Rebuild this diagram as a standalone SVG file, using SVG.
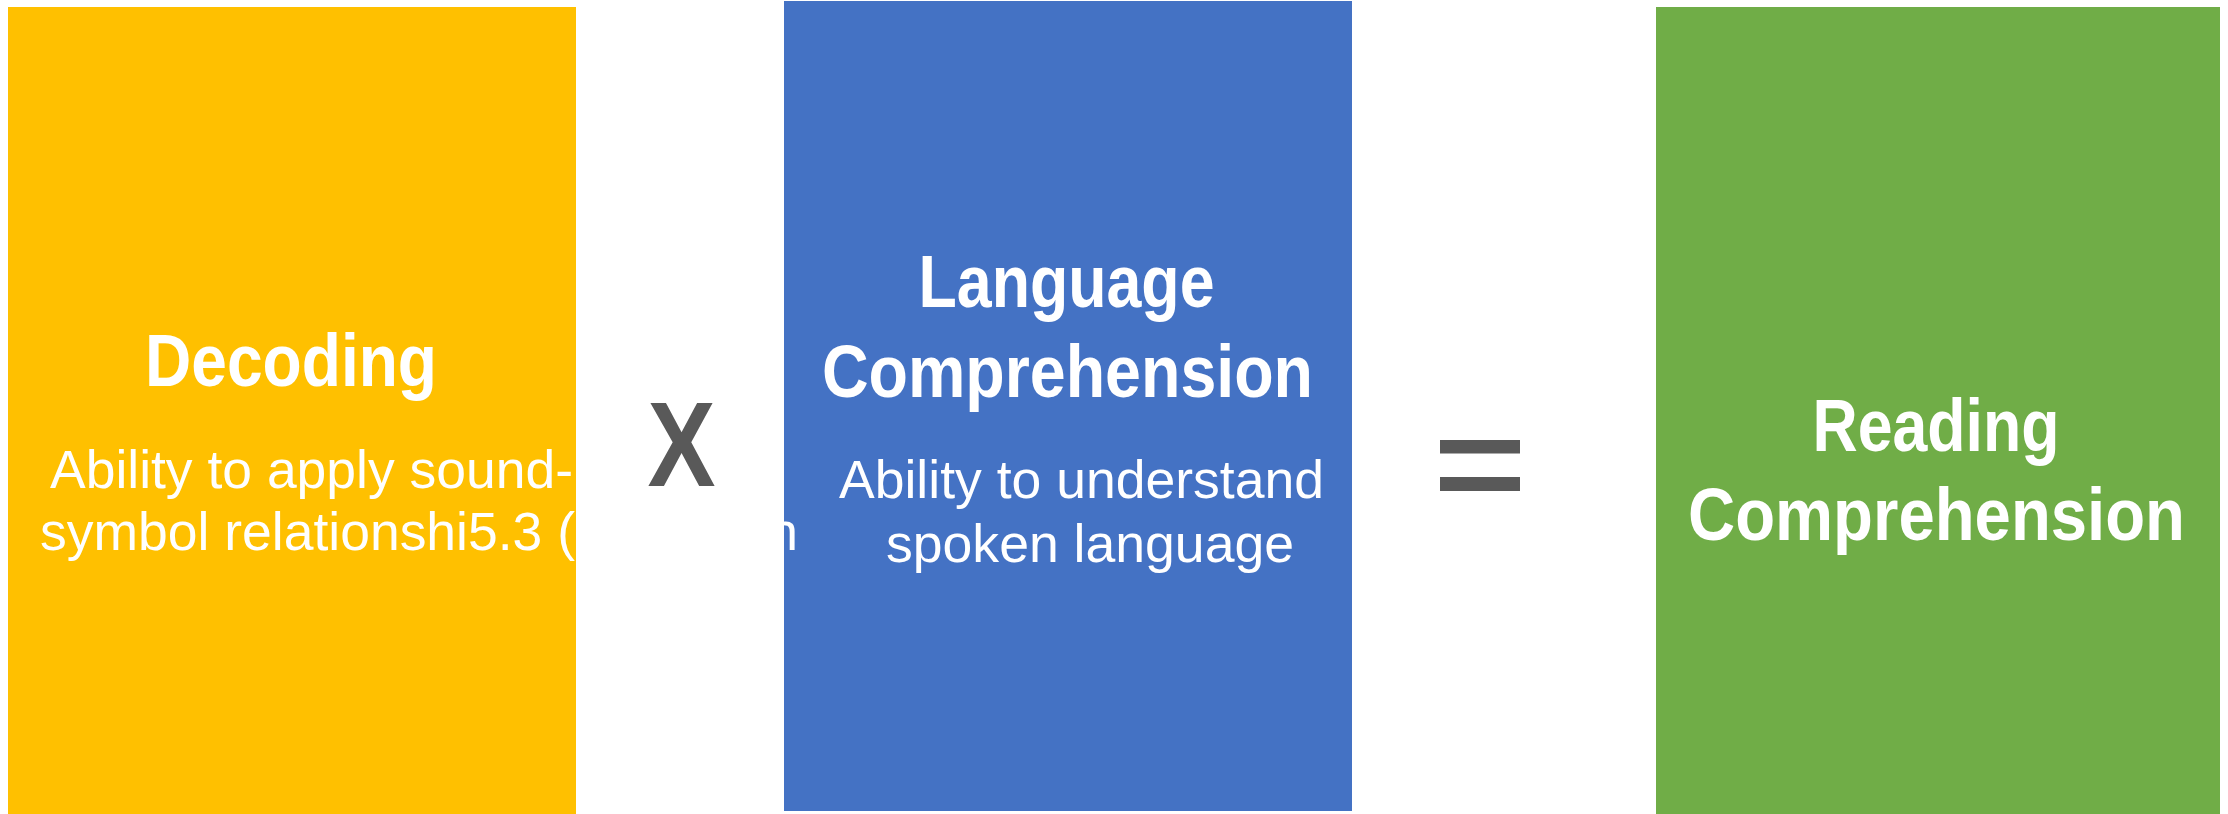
<svg xmlns="http://www.w3.org/2000/svg" width="2228" height="814" viewBox="0 0 2228 814">
  <style>
    .title { font-family: "Liberation Sans Narrow", "Liberation Sans", Arial, sans-serif; font-weight: bold; font-size: 75px; fill: #FFFFFF; }
    .body { font-family: "Liberation Sans", Arial, sans-serif; font-size: 54px; fill: #FFFFFF; }
    .op { font-family: "Liberation Sans Narrow", "Liberation Sans", Arial, sans-serif; font-weight: bold; font-size: 120px; fill: #595959; }
    .op-shape { fill: #595959; }
  </style>

  <rect x="0" y="0" width="2228" height="814" fill="#FFFFFF"/>

  <!-- Language Comprehension -->
  <g id="node-language">
    <rect x="784" y="1" width="568" height="810" fill="#4472C4"/>
    <text class="title" x="918.5" y="307" textLength="296" lengthAdjust="spacingAndGlyphs">Language</text>
    <text class="title" x="822" y="397" textLength="491" lengthAdjust="spacingAndGlyphs">Comprehension</text>
    <text class="body" x="839" y="498" textLength="485" lengthAdjust="spacingAndGlyphs">Ability to understand</text>
    <text class="body" x="886" y="562" textLength="408" lengthAdjust="spacingAndGlyphs">spoken language</text>
  </g>

  <!-- Decoding (drawn after the blue box: its second line runs on past its own box) -->
  <g id="node-decoding">
    <rect x="8" y="7" width="568" height="807" fill="#FFC000"/>
    <text class="title" x="145" y="386" textLength="292" lengthAdjust="spacingAndGlyphs">Decoding</text>
    <text class="body" x="50" y="488" textLength="523" lengthAdjust="spacingAndGlyphs">Ability to apply sound-</text>
    <text class="body" x="40" y="550" textLength="535" lengthAdjust="spacingAndGlyphs">symbol relationshi5.3 (</text>
    <text class="body" x="768" y="550">n</text>
  </g>

  <!-- multiplication sign -->
  <g id="op-multiply">
    <text class="op" x="647.5" y="486" textLength="68" lengthAdjust="spacingAndGlyphs">X</text>
  </g>

  <!-- equals shape -->
  <g id="op-equals">
    <rect class="op-shape" x="1440" y="440" width="80" height="13.5"/>
    <rect class="op-shape" x="1440" y="477" width="80" height="14"/>
  </g>

  <!-- Reading Comprehension -->
  <g id="node-reading">
    <rect x="1656" y="7" width="564" height="807" fill="#70AD47"/>
    <text class="title" x="1812.5" y="451" textLength="247" lengthAdjust="spacingAndGlyphs">Reading</text>
    <text class="title" x="1688" y="540" textLength="497" lengthAdjust="spacingAndGlyphs">Comprehension</text>
  </g>

  <g id="connectors"></g>
</svg>
